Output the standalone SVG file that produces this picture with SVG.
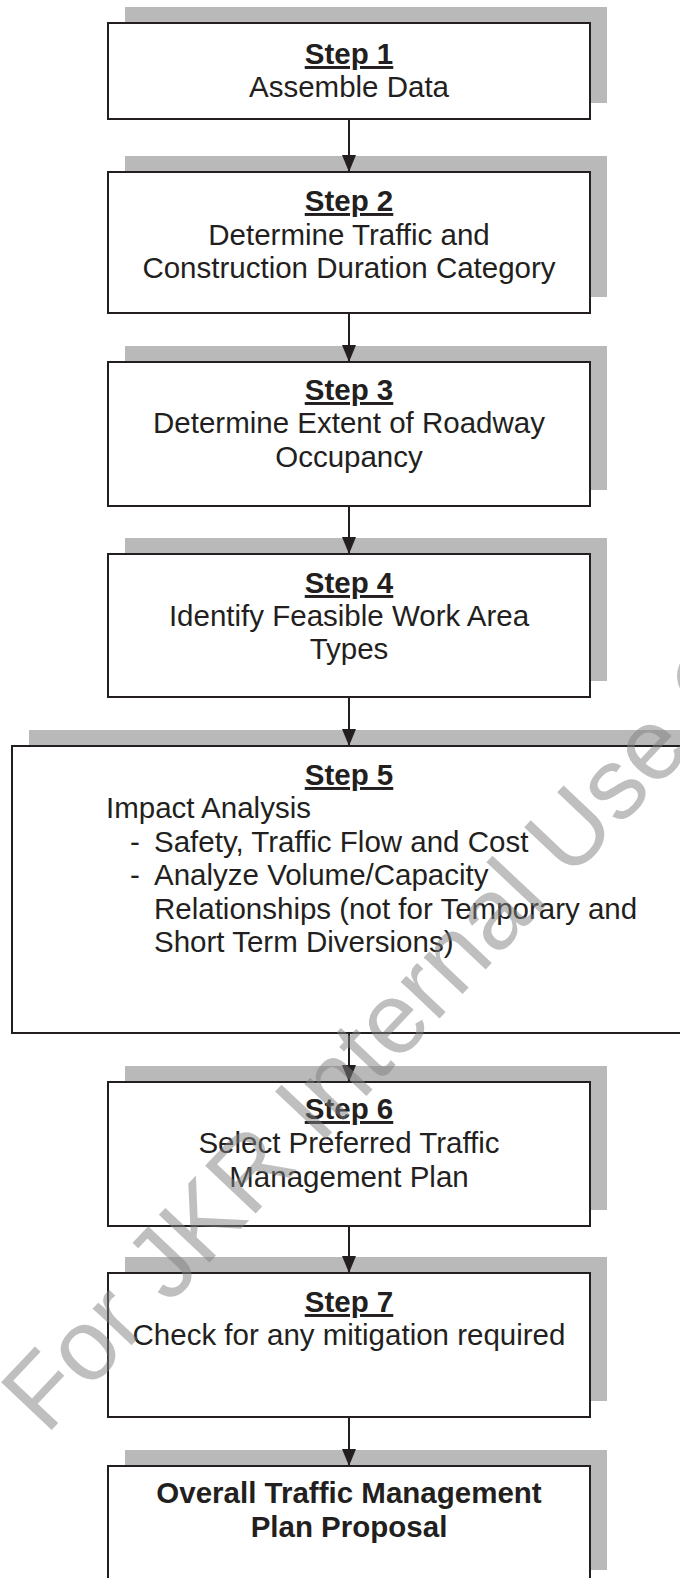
<svg xmlns="http://www.w3.org/2000/svg" width="680" height="1578" viewBox="0 0 680 1578">
<style>
.shadow{fill:#b9b9b9}
.box{fill:#ffffff;stroke:#231f20;stroke-width:2}
.t{font-family:"Liberation Sans",Arial,sans-serif;font-size:29.5px;fill:#231f20}
.c{text-anchor:middle}
.b{font-weight:bold}
.u{font-weight:bold;text-decoration:underline}
.conn{stroke:#231f20;stroke-width:2;fill:none}
.wm{font-family:"Liberation Sans",Arial,sans-serif;font-size:101px;fill:#7f7f7f;fill-opacity:0.5}
</style>
<defs>
<marker id="ah" markerUnits="userSpaceOnUse" markerWidth="17" markerHeight="14" viewBox="0 0 17 14" refX="17" refY="7" orient="auto">
<path d="M0,0 L17,7 L0,14 z" fill="#231f20"/>
</marker>
</defs>
<rect width="680" height="1578" fill="#ffffff"/>

<g id="step1">
<rect class="shadow" x="125" y="7" width="482" height="96"/>
<rect class="box" x="108" y="23" width="482" height="96"/>
<text class="t c u" x="349" y="64">Step 1</text>
<text class="t c" x="349" y="97">Assemble Data</text>
</g>

<g id="step2">
<rect class="shadow" x="125" y="156" width="482" height="141"/>
<rect class="box" x="108" y="172" width="482" height="141"/>
<text class="t c u" x="349" y="211">Step 2</text>
<text class="t c" x="349" y="245">Determine Traffic and</text>
<text class="t c" x="349" y="278">Construction Duration Category</text>
</g>

<g id="step3">
<rect class="shadow" x="125" y="346" width="482" height="144"/>
<rect class="box" x="108" y="362" width="482" height="144"/>
<text class="t c u" x="349" y="400">Step 3</text>
<text class="t c" x="349" y="433">Determine Extent of Roadway</text>
<text class="t c" x="349" y="467">Occupancy</text>
</g>

<g id="step4">
<rect class="shadow" x="125" y="538" width="482" height="143"/>
<rect class="box" x="108" y="554" width="482" height="143"/>
<text class="t c u" x="349" y="593">Step 4</text>
<text class="t c" x="349" y="626">Identify Feasible Work Area</text>
<text class="t c" x="349" y="659">Types</text>
</g>

<g id="step5">
<rect class="shadow" x="29" y="730" width="700" height="287"/>
<rect class="box" x="12" y="746" width="700" height="287"/>
<text class="t c u" x="349" y="785">Step 5</text>
<text class="t" x="106" y="818">Impact Analysis</text>
<text class="t" x="130" y="852">-</text>
<text class="t" x="154" y="852">Safety, Traffic Flow and Cost</text>
<text class="t" x="130" y="885">-</text>
<text class="t" x="154" y="885">Analyze Volume/Capacity</text>
<text class="t" x="154" y="919">Relationships (not for Temporary and</text>
<text class="t" x="154" y="952">Short Term Diversions)</text>
</g>

<g id="step6">
<rect class="shadow" x="125" y="1066" width="482" height="144"/>
<rect class="box" x="108" y="1082" width="482" height="144"/>
<text class="t c u" x="349" y="1119">Step 6</text>
<text class="t c" x="349" y="1153">Select Preferred Traffic</text>
<text class="t c" x="349" y="1187">Management Plan</text>
</g>

<g id="step7">
<rect class="shadow" x="125" y="1257" width="482" height="144"/>
<rect class="box" x="108" y="1273" width="482" height="144"/>
<text class="t c u" x="349" y="1312">Step 7</text>
<text class="t c" x="349" y="1345">Check for any mitigation required</text>
</g>

<g id="final">
<rect class="shadow" x="125" y="1450" width="482" height="120"/>
<rect class="box" x="108" y="1466" width="482" height="140"/>
<text class="t c b" x="349" y="1503">Overall Traffic Management</text>
<text class="t c b" x="349" y="1537">Plan Proposal</text>
</g>

<g id="connectors">
<line class="conn" x1="349" y1="119" x2="349" y2="172" marker-end="url(#ah)"/>
<line class="conn" x1="349" y1="313" x2="349" y2="362" marker-end="url(#ah)"/>
<line class="conn" x1="349" y1="506" x2="349" y2="554" marker-end="url(#ah)"/>
<line class="conn" x1="349" y1="697" x2="349" y2="746" marker-end="url(#ah)"/>
<line class="conn" x1="349" y1="1033" x2="349" y2="1082" marker-end="url(#ah)"/>
<line class="conn" x1="349" y1="1226" x2="349" y2="1273" marker-end="url(#ah)"/>
<line class="conn" x1="349" y1="1417" x2="349" y2="1466" marker-end="url(#ah)"/>
</g>

<text class="wm" transform="translate(46,1436) rotate(-46.7)">For JKR Internal Use Only</text>
</svg>
